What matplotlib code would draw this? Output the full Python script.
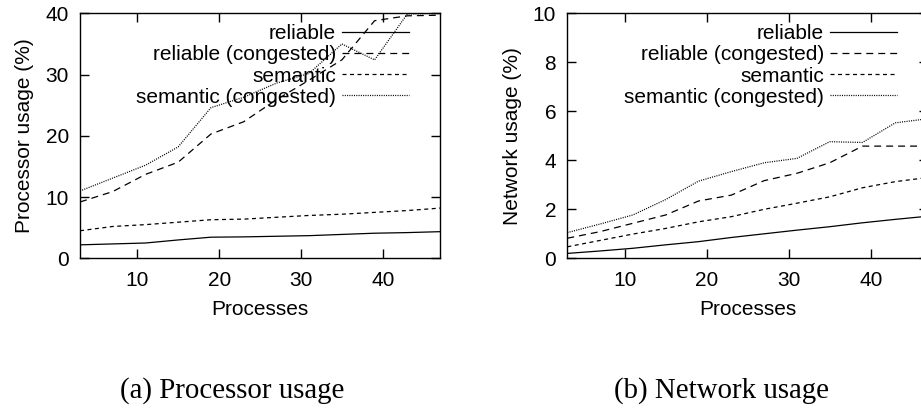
import matplotlib
matplotlib.use("Agg")
import matplotlib.pyplot as plt

# number of processes
processes = [3, 7, 11, 15, 19, 23, 27, 31, 35, 39, 43, 47]

# processor usage (%)
cpu_reliable = [2.2, 2.35, 2.5, 3.0, 3.45, 3.5, 3.6, 3.7, 3.9, 4.1, 4.2, 4.35]
cpu_reliable_cong = [9.2, 10.9, 13.7, 15.7, 20.3, 22.3, 25.9, 29.1, 32.4, 38.8, 39.6, 39.7]
cpu_semantic = [4.5, 5.2, 5.5, 5.9, 6.3, 6.4, 6.7, 7.0, 7.2, 7.5, 7.8, 8.2]
cpu_semantic_cong = [11.0, 13.1, 15.2, 18.2, 24.6, 26.3, 28.6, 30.2, 35.0, 32.4, 39.9, 40.0]

# network usage (%)
net_reliable = [0.2, 0.3, 0.41, 0.55, 0.68, 0.85, 1.0, 1.15, 1.29, 1.45, 1.59, 1.72]
net_reliable_cong = [0.82, 1.09, 1.43, 1.77, 2.34, 2.58, 3.17, 3.47, 3.9, 4.58, 4.58, 4.58]
net_semantic = [0.47, 0.73, 0.99, 1.22, 1.49, 1.7, 2.0, 2.25, 2.51, 2.88, 3.13, 3.3]
net_semantic_cong = [1.05, 1.4, 1.77, 2.4, 3.15, 3.54, 3.9, 4.08, 4.76, 4.73, 5.53, 5.7]

labels = ["reliable", "reliable (congested)", "semantic", "semantic (congested)"]
styles = ["-", (0, (5, 3.6)), (0, (2.9, 2.5)), (0, (0.75, 0.9))]

plt.rcParams["font.family"] = ["Liberation Sans", "DejaVu Sans"]
plt.rcParams["lines.scale_dashes"] = False
plt.rcParams["axes.linewidth"] = 1.0


def draw_panel(ax, series, ymax, ystep, ylabel):
    for vals, lab, ls in zip(series, labels, styles):
        ax.plot(processes, vals, color="black", linestyle=ls, linewidth=0.9, label=lab)
    ax.set_xlim(3, 47)
    ax.set_ylim(0, ymax)
    ax.set_xticks([10, 20, 30, 40])
    ax.set_yticks(list(range(0, ymax + 1, ystep)))
    ax.tick_params(direction="in", length=6.5, width=1.0, top=True, right=True,
                   labelsize=15)
    ax.tick_params(axis="x", pad=9)
    ax.tick_params(axis="y", pad=8)
    ax.set_xlabel("Processes", fontsize=15, labelpad=7)
    ax.set_ylabel(ylabel, fontsize=15, labelpad=8)
    ax.legend(loc="upper right", bbox_to_anchor=(0.914, 0.955), frameon=False,
              markerfirst=False, fontsize=15, handlelength=3.2, handletextpad=0.3,
              labelspacing=0.1, borderpad=0, borderaxespad=0)


fig = plt.figure(figsize=(9.21, 4.11), dpi=100)
ax1 = fig.add_axes([0.0869, 0.3715, 0.3909, 0.596])
ax2 = fig.add_axes([0.616, 0.3715, 0.3917, 0.596])

draw_panel(ax1, [cpu_reliable, cpu_reliable_cong, cpu_semantic, cpu_semantic_cong],
           40, 10, "Processor usage (%)")
draw_panel(ax2, [net_reliable, net_reliable_cong, net_semantic, net_semantic_cong],
           10, 2, "Network usage (%)")

fig.text(0.252, 0.049, "(a) Processor usage", ha="center", va="center",
         family="Liberation Serif", fontsize=20.8)
fig.text(0.783, 0.049, "(b) Network usage", ha="center", va="center",
         family="Liberation Serif", fontsize=20.8)

fig.savefig("out.png", dpi=100)
